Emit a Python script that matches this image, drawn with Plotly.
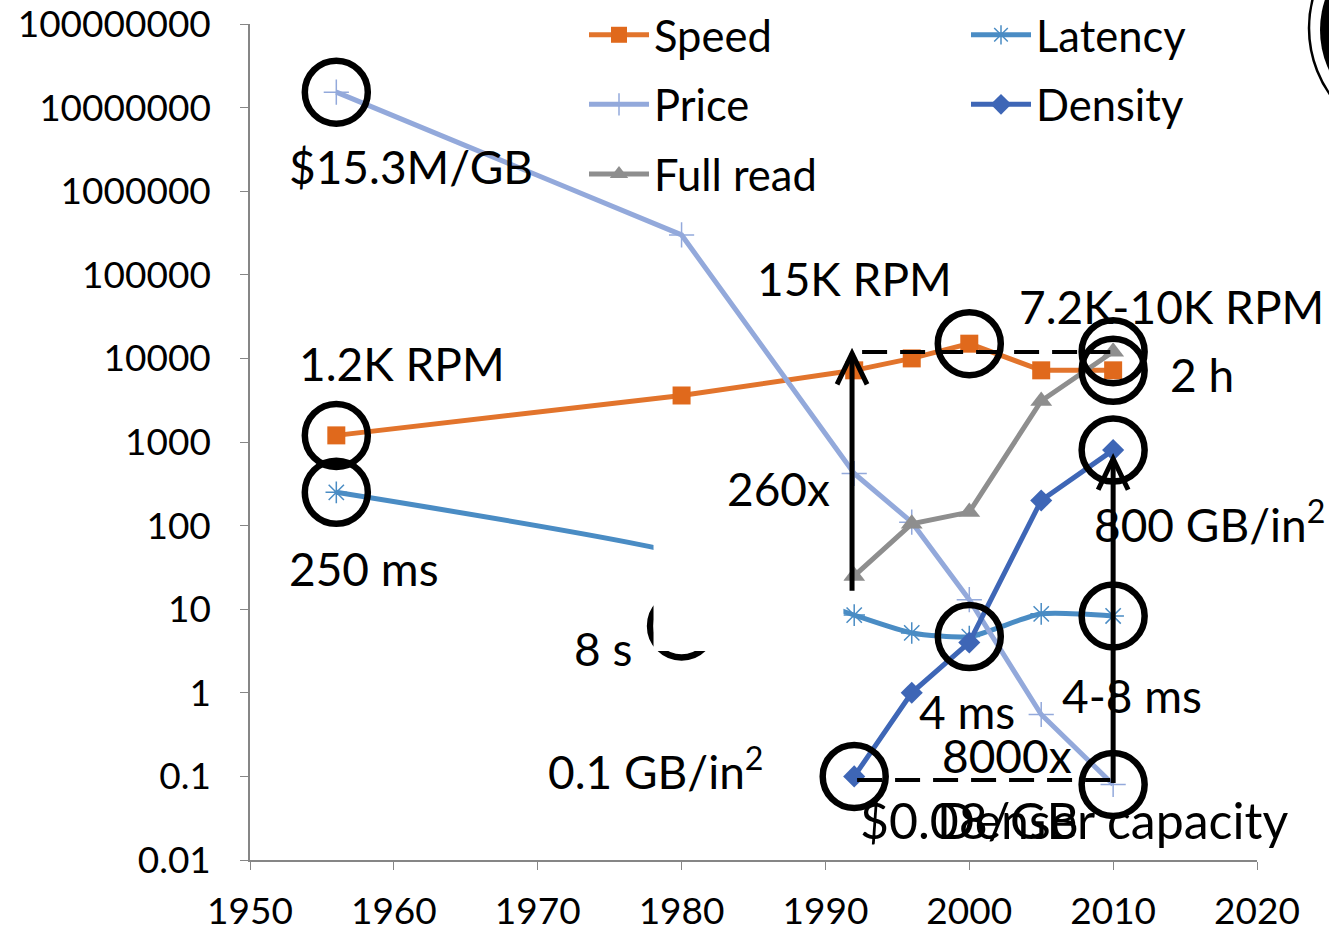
import numpy as np
import plotly.graph_objects as go

# ---------------- data ----------------
years = [1956, 1980, 1992, 1996, 2000, 2005, 2010]
speed = [1200, 3600, 7200, 10000, 15000, 7200, 7200]          # RPM
price = [15.3e6, 300000, 420, 110, 13, 0.55, 0.08]            # $/GB
latency = [250, 46, 8.5, 5.2, 4.7, 8.8, 8.3]                  # ms

years_late = [1992, 1996, 2000, 2005, 2010]
full_read = [25, 105, 145, 3100, 12000]                       # s
density = [0.1, 1, 4, 200, 800]                               # GB/in^2

x_ticks = [1950, 1960, 1970, 1980, 1990, 2000, 2010, 2020]
y_ticks = [0.01, 0.1, 1, 10, 100, 1000, 10000, 100000, 1000000, 10000000, 100000000]
y_ticktext = ["0.01", "0.1", "1", "10", "100", "1000", "10000", "100000",
              "1000000", "10000000", "100000000"]

# highlighted points (circled)
circle_x = [1956, 1956, 1956, 2000, 2010, 2010, 2010, 2010, 2000, 1992, 2010]
circle_y = [price[0], speed[0], latency[0], speed[4], full_read[4], speed[6],
            density[4], latency[6], latency[4], density[0], price[6]]
hidden_circle_x = [1980]
hidden_circle_y = [6.3]

FONT = "Lato"
C_SPEED = "#E2742C"
C_SPEED_M = "#E0691C"
C_PRICE = "#93A9DB"
C_LAT = "#4A8CC4"
C_DENS = "#3E66B6"
C_FULL = "#8E8E8E"

fig = go.Figure()

fig.add_trace(go.Scatter(x=years, y=speed, name="Speed", mode="lines+markers",
                         line=dict(color=C_SPEED, width=5),
                         marker=dict(symbol="square", size=18, color=C_SPEED_M),
                         legend="legend", legendgroup="a"))
fig.add_trace(go.Scatter(x=years, y=latency, name="Latency", mode="lines+markers",
                         line=dict(color=C_LAT, width=5, shape="spline", smoothing=0.6),
                         marker=dict(symbol="asterisk-open", size=18, color=C_LAT,
                                     line=dict(color=C_LAT, width=1.5)),
                         legend="legend2", legendgroup="b"))
fig.add_trace(go.Scatter(x=years, y=price, name="Price", mode="lines+markers",
                         line=dict(color=C_PRICE, width=5),
                         marker=dict(symbol="cross-thin-open", size=18, color=C_PRICE,
                                     line=dict(color=C_PRICE, width=1.5)),
                         legend="legend", legendgroup="c"))
fig.add_trace(go.Scatter(x=years_late, y=density, name="Density", mode="lines+markers",
                         line=dict(color=C_DENS, width=5),
                         marker=dict(symbol="diamond", size=17, color=C_DENS),
                         legend="legend2", legendgroup="d"))
fig.add_trace(go.Scatter(x=years_late, y=full_read, name="Full read", mode="lines+markers",
                         line=dict(color=C_FULL, width=5),
                         marker=dict(symbol="triangle-up", size=19, color=C_FULL),
                         legend="legend", legendgroup="e"))

# circle hidden under the white mask
fig.add_trace(go.Scatter(x=hidden_circle_x, y=hidden_circle_y, mode="markers",
                         showlegend=False, hoverinfo="skip",
                         marker=dict(symbol="circle-open", size=63, color="black",
                                     line=dict(color="black", width=6.5))))

shapes = []
# white mask (below the visible circles, above lines)
shapes.append(dict(type="rect", xref="x", yref="y", x0=1978.05, x1=1991.25,
                   y0=10 ** 0.5, y1=10 ** 2.0, fillcolor="white", line=dict(width=0),
                   layer="above"))
# arrows
for ax, yb, yt in [(1991.85, 10 ** 1.22, 10 ** 4.06), (2010.0, 10 ** -1.08, 10 ** 2.80)]:
    shapes.append(dict(type="line", xref="x", yref="y", x0=ax, x1=ax, y0=yb, y1=yt,
                       line=dict(color="black", width=5), layer="above"))
    shapes.append(dict(type="path", xref="x", yref="y", xsizemode="pixel",
                       ysizemode="pixel", xanchor=ax, yanchor=yt,
                       path="M-15,-31 L0,0 L15,-31",
                       line=dict(color="black", width=5), layer="above"))
# dashed guide lines
for x0, x1, yv in [(1992.55, 2009.8, 10 ** 4.077), (1992.2, 2009.8, 10 ** -1.043)]:
    shapes.append(dict(type="line", xref="x", yref="y", x0=x0, x1=x1, y0=yv, y1=yv,
                       line=dict(color="black", width=4, dash="25px,13px"), layer="above"))

# decoration top-right (partially off canvas)
def px2paper_x(p):
    return (p - 250) / 1007.0

def px2paper_y(p):
    return (860 - p) / 836.0

shapes.append(dict(type="circle", xref="paper", yref="paper",
                   x0=px2paper_x(1320), x1=px2paper_x(1510),
                   y0=px2paper_y(125), y1=px2paper_y(-65),
                   fillcolor="black", line=dict(width=0), layer="above"))
shapes.append(dict(type="circle", xref="paper", yref="paper",
                   x0=px2paper_x(1309), x1=px2paper_x(1541),
                   y0=px2paper_y(144), y1=px2paper_y(-88),
                   line=dict(color="black", width=2.5), layer="above"))

fig.update_layout(shapes=shapes)

# visible highlight circles drawn above the mask: second overlaying axis pair
fig.add_trace(go.Scatter(x=circle_x, y=circle_y, mode="markers", showlegend=False,
                         hoverinfo="skip", xaxis="x2", yaxis="y2",
                         marker=dict(symbol="circle-open", size=63, color="black",
                                     line=dict(color="black", width=6.5))))

def xd(p):
    return 1950 + (p - 250) / 14.386

def yd(p):
    return (692.8 - p) / 83.6

labels = [
    ("$15.3M/GB", 287, 166, 46),
    ("1.2K RPM", 297, 363, 46),
    ("250 ms", 287, 568, 46),
    ("8 s", 572, 648, 46),
    ("260x", 725, 488, 46),
    ("15K RPM", 755, 278, 46),
    ("7.2K-10K RPM", 1017, 306, 46),
    ("2 h", 1168, 374, 46),
    ("800 GB/in<sup>2</sup>", 1092, 521, 46),
    ("4-8 ms", 1060, 695, 46),
    ("4 ms", 917, 711, 46),
    ("8000x", 940, 755, 46),
    ("0.1 GB/in<sup>2</sup>", 546, 768, 46),
    ("$0.08/GB", 858, 820, 50),
    ("Denser capacity", 935, 820, 50),
]
for txt, lx, cy, fs in labels:
    fig.add_annotation(x=xd(lx), y=yd(cy), xref="x", yref="y", text=txt,
                       showarrow=False, xanchor="left", yanchor="middle",
                       font=dict(family=FONT, size=fs, color="black"))

axis_col = "#868686"
fig.update_xaxes(range=[1950, 2020], tickvals=x_ticks, ticks="outside", ticklen=8,
                 tickcolor=axis_col, showline=True, linecolor=axis_col, linewidth=1.5,
                 showgrid=False, zeroline=False, automargin=False,
                 ticklabeloverflow="allow", ticklabelstandoff=10,
                 tickfont=dict(family=FONT, size=37, color="black"))
fig.update_yaxes(type="log", range=[-2, 8], tickvals=y_ticks, ticktext=y_ticktext,
                 ticks="outside", ticklen=8, tickcolor=axis_col, showline=True,
                 linecolor=axis_col, linewidth=1.5, showgrid=False, zeroline=False,
                 automargin=False, ticklabeloverflow="allow", ticklabelstandoff=22,
                 tickfont=dict(family=FONT, size=37, color="black"))

fig.update_layout(
    width=1329, height=932,
    margin=dict(l=250, r=72, t=24, b=72, autoexpand=False),
    plot_bgcolor="rgba(0,0,0,0)", paper_bgcolor="white",
    xaxis2=dict(overlaying="x", range=[1950, 2020], visible=False, automargin=False),
    yaxis2=dict(overlaying="y", type="log", range=[-2, 8], visible=False, automargin=False),
    legend=dict(xref="container", yref="container", x=584 / 1329, y=1.0,
                xanchor="left", yanchor="top",
                orientation="v", itemwidth=60, tracegroupgap=10,
                bgcolor="rgba(0,0,0,0)", font=dict(family=FONT, size=43.5, color="black")),
    legend2=dict(xref="container", yref="container", x=966 / 1329, y=1.0,
                 xanchor="left", yanchor="top",
                 orientation="v", itemwidth=60, tracegroupgap=10,
                 bgcolor="rgba(0,0,0,0)", font=dict(family=FONT, size=43.5, color="black")),
)

fig.write_html("out.html", config={"displayModeBar": False},
               post_script="document.body.style.margin='0';document.body.style.overflow='hidden';")
